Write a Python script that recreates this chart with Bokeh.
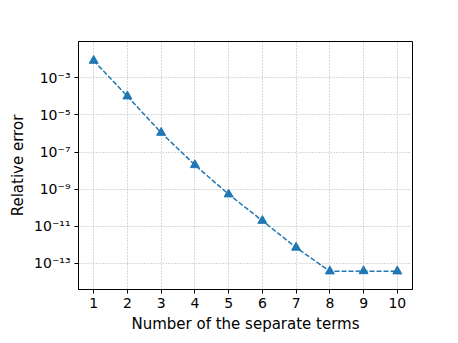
from bokeh.plotting import figure
from bokeh.models import FixedTicker, Range1d
from bokeh.embed import file_html
from bokeh.resources import INLINE

terms = [1, 2, 3, 4, 5, 6, 7, 8, 9, 10]
rel_error = [8.3e-3, 1.0e-4, 1.1e-6, 2.0e-8, 5.3e-10, 2.0e-11, 7.2e-13, 3.8e-14, 3.9e-14, 3.8e-14]
y_ticks = [1e-3, 1e-5, 1e-7, 1e-9, 1e-11, 1e-13]
y_tick_labels = ["10⁻³", "10⁻⁵", "10⁻⁷", "10⁻⁹", "10⁻¹¹", "10⁻¹³"]

FONT = "DejaVu Sans"
BLUE = "#1f77b4"

p = figure(width=450, height=335, y_axis_type="log", output_backend="svg",
           toolbar_location=None,
           x_range=Range1d(0.55, 10.45), y_range=Range1d(10 ** -14.4, 10 ** -1.05),
           min_border_left=78, min_border_right=38, min_border_top=41, min_border_bottom=44)
p.background_fill_color = "white"
p.border_fill_color = "white"
p.outline_line_color = "black"
p.outline_line_width = 1

p.line(terms, rel_error, line_color=BLUE, line_width=1.5, line_dash="5 2")
p.scatter(terms, rel_error, marker="triangle", size=9, fill_color=BLUE, line_color=BLUE)

p.xaxis.ticker = FixedTicker(ticks=terms)
p.yaxis.ticker = FixedTicker(ticks=y_ticks, minor_ticks=[])
p.yaxis.major_label_overrides = {t: l for t, l in zip(y_ticks, y_tick_labels)}

for ax in (p.xaxis, p.yaxis):
    ax.major_label_text_font = FONT
    ax.major_label_text_font_size = "14px"
    ax.major_label_text_color = "black"
    ax.axis_label_text_font = FONT
    ax.axis_label_text_font_size = "15px"
    ax.axis_label_text_font_style = "normal"
    ax.axis_label_text_color = "black"
    ax.axis_line_color = "black"
    ax.major_tick_line_color = "black"
    ax.major_tick_out = 4
    ax.major_tick_in = 0
    ax.minor_tick_line_color = None
    ax.axis_label_standoff = 4
p.xaxis.axis_label = "Number of the separate terms"
p.yaxis.axis_label = "Relative error"
p.xaxis.major_label_standoff = 4
p.yaxis.major_label_standoff = 4

p.xgrid.grid_line_color = "#a0a0a0"
p.ygrid.grid_line_color = "#a0a0a0"
p.xgrid.grid_line_dash = "1 2"
p.ygrid.grid_line_dash = "1 2"
p.xgrid.grid_line_width = 0.8
p.ygrid.grid_line_width = 0.8

open("out.html", "w").write(file_html(p, INLINE))
